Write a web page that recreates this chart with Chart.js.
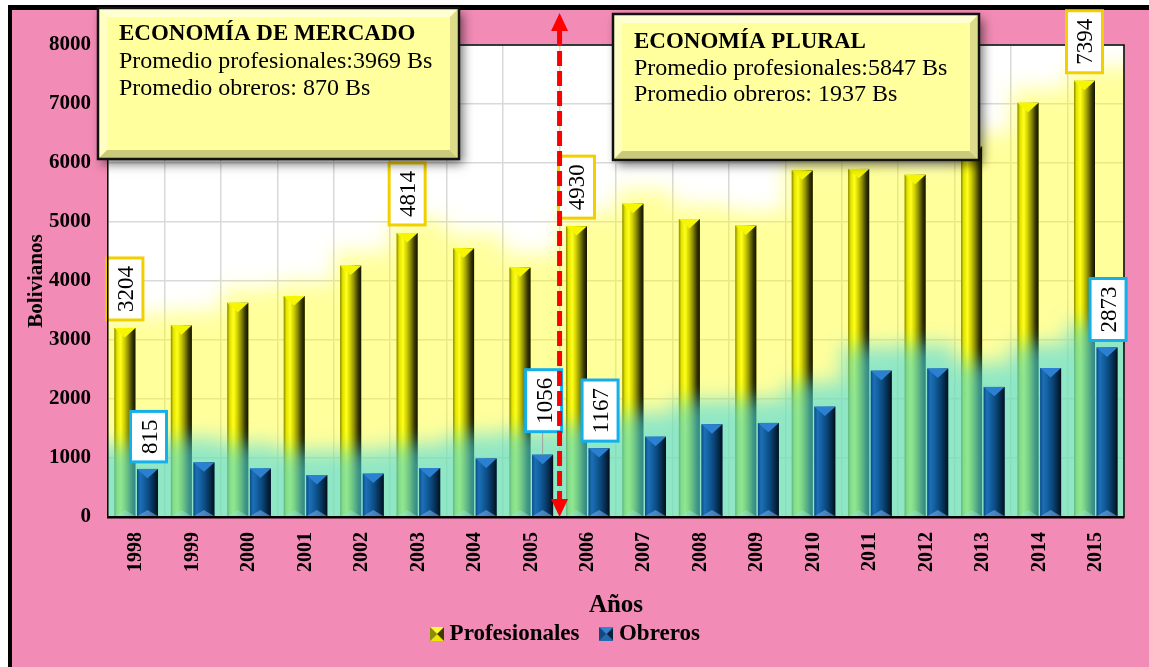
<!DOCTYPE html>
<html>
<head>
<meta charset="utf-8">
<script src="https://cdn.jsdelivr.net/npm/chart.js@4/dist/chart.umd.min.js"></script>
<style>
html,body{margin:0;padding:0;background:#fff;}
canvas{display:block;}
</style>
</head>
<body>
<canvas id="c" width="1149" height="667"></canvas>
<script>
// ---------------- DATA ----------------
const years = ['1998','1999','2000','2001','2002','2003','2004','2005','2006','2007','2008','2009','2010','2011','2012','2013','2014','2015'];
const profesionales = [3204, 3250, 3630, 3745, 4260, 4814, 4555, 4228, 4930, 5310, 5050, 4940, 5875, 5900, 5800, 6285, 7020, 7394];
const obreros = [815, 925, 820, 710, 735, 830, 990, 1056, 1167, 1360, 1570, 1595, 1870, 2480, 2515, 2205, 2525, 2873];
const yTickValues = [0, 1000, 2000, 3000, 4000, 5000, 6000, 7000, 8000];
const profLabelIdx = [0, 5, 8, 17];
const obrLabelIdx = [0, 7, 8, 17];
const seriesNames = ['Profesionales', 'Obreros'];
const boxMercado = ['ECONOMÍA DE MERCADO', 'Promedio profesionales:3969 Bs', 'Promedio obreros: 870 Bs'];
const boxPlural = ['ECONOMÍA PLURAL', 'Promedio profesionales:5847 Bs', 'Promedio obreros: 1937 Bs'];
const dividerAfterIndex = 7; // arrow between 2005 and 2006

// ---------------- STYLE ----------------
const FONT = "'Liberation Serif', 'Times New Roman', serif";
const PINK = '#f28bb5';

function makeIcon(top, bottom, left, right) {
  const c = document.createElement('canvas');
  c.width = 14; c.height = 14;
  const g = c.getContext('2d');
  const tri = (a, b, col) => { g.beginPath(); g.moveTo(a[0], a[1]); g.lineTo(b[0], b[1]); g.lineTo(7, 7); g.closePath(); g.fillStyle = col; g.fill(); };
  tri([0,0],[14,0], top);
  tri([0,14],[14,14], bottom);
  tri([0,0],[0,14], left);
  tri([14,0],[14,14], right);
  return c;
}
const iconProf = makeIcon('#ffff30', '#e8e800', '#8c8c00', '#3c3c00');
const iconObr = makeIcon('#2f86d6', '#1e6cb4', '#0b4a82', '#03223f');

const profStyle = {
  stops: [[0,'#8a8a00'],[0.12,'#e4e400'],[0.3,'#ffff1c'],[0.47,'#d2d200'],[0.66,'#8c8c00'],[0.85,'#3a3a00'],[1,'#121200']],
  cap: '#f6f600', foot: 'rgba(255,255,200,0.45)'
};
const obrStyle = {
  stops: [[0,'#0c4c86'],[0.15,'#1c70b8'],[0.35,'#135f9f'],[0.6,'#0a4578'],[0.85,'#052540'],[1,'#020e1b']],
  cap: '#2b80d2', foot: 'rgba(110,170,230,0.6)'
};

function drawGlow(chart, values, color, margin, blur) {
  const {ctx, chartArea: a, scales: {x, y}} = chart;
  const half = (x.getPixelForValue(1) - x.getPixelForValue(0)) / 2;
  ctx.save();
  ctx.beginPath(); ctx.rect(a.left, a.top, a.right - a.left, a.bottom - a.top); ctx.clip();
  ctx.filter = 'blur(' + blur + 'px)';
  ctx.fillStyle = color;
  ctx.beginPath();
  ctx.moveTo(a.left - 60, a.bottom + 60);
  let lastY = 0;
  values.forEach((v, i) => {
    const cx = x.getPixelForValue(i);
    const py = y.getPixelForValue(v) - margin;
    if (i === 0) ctx.lineTo(a.left - 60, py);
    ctx.lineTo(cx - half, py);
    ctx.lineTo(cx + half, py);
    lastY = py;
  });
  ctx.lineTo(a.right + 60, lastY);
  ctx.lineTo(a.right + 60, a.bottom + 60);
  ctx.closePath();
  ctx.fill();
  ctx.restore();
}

function shadeBars(chart, meta, st) {
  const ctx = chart.ctx;
  const a = chart.chartArea;
  ctx.save();
  ctx.beginPath(); ctx.rect(a.left, a.top - 40, a.right - a.left, a.bottom - a.top + 40); ctx.clip();
  meta.data.forEach(el => {
    const p = el.getProps(['x', 'y', 'base', 'width'], true);
    const x0 = p.x - p.width / 2, x1 = p.x + p.width / 2, w = p.width;
    const g = ctx.createLinearGradient(x0, 0, x1, 0);
    st.stops.forEach(s => g.addColorStop(s[0], s[1]));
    ctx.fillStyle = g;
    ctx.fillRect(x0, p.y, w, p.base - p.y);
    const capH = Math.min(w * 0.45, (p.base - p.y) / 2);
    ctx.beginPath(); ctx.moveTo(x0, p.y); ctx.lineTo(x1, p.y); ctx.lineTo(p.x, p.y + capH); ctx.closePath();
    ctx.fillStyle = st.cap; ctx.fill();
    const footH = Math.min(w * 0.3, (p.base - p.y) / 3);
    ctx.beginPath(); ctx.moveTo(x0, p.base); ctx.lineTo(x1, p.base); ctx.lineTo(p.x, p.base - footH); ctx.closePath();
    ctx.fillStyle = st.foot; ctx.fill();
  });
  ctx.restore();
}

function valueLabel(ctx, cx, bottomY, text, border) {
  ctx.save();
  ctx.font = '23px ' + FONT;
  const tw = ctx.measureText(text).width;
  const bw = 36, bh = tw + 16;
  const x0 = cx - bw / 2, y0 = bottomY - bh;
  ctx.fillStyle = '#ffffff';
  ctx.fillRect(x0, y0, bw, bh);
  ctx.strokeStyle = border; ctx.lineWidth = 3;
  ctx.strokeRect(x0, y0, bw, bh);
  ctx.translate(cx, y0 + bh / 2);
  ctx.rotate(-Math.PI / 2);
  ctx.fillStyle = '#000';
  ctx.textAlign = 'center';
  ctx.textBaseline = 'alphabetic';
  ctx.fillText(text, 0, 8);
  ctx.restore();
}

function bevelBox(ctx, x, y, w, h, lines, tx, baselines) {
  ctx.save();
  ctx.shadowColor = 'rgba(0,0,0,0.55)';
  ctx.shadowBlur = 10; ctx.shadowOffsetX = 4; ctx.shadowOffsetY = 5;
  ctx.fillStyle = '#ffff9e';
  ctx.fillRect(x, y, w, h);
  ctx.restore();
  const b = 9;
  const poly = (pts, col) => { ctx.beginPath(); ctx.moveTo(pts[0][0], pts[0][1]); pts.slice(1).forEach(p => ctx.lineTo(p[0], p[1])); ctx.closePath(); ctx.fillStyle = col; ctx.fill(); };
  poly([[x,y],[x+w,y],[x+w-b,y+b],[x+b,y+b]], '#ffffd4');
  poly([[x,y],[x+b,y+b],[x+b,y+h-b],[x,y+h]], '#ffffc4');
  poly([[x,y+h],[x+b,y+h-b],[x+w-b,y+h-b],[x+w,y+h]], '#caca7c');
  poly([[x+w,y],[x+w,y+h],[x+w-b,y+h-b],[x+w-b,y+b]], '#dcdc8a');
  ctx.strokeStyle = '#111'; ctx.lineWidth = 2.5;
  ctx.strokeRect(x, y, w, h);
  ctx.fillStyle = '#000';
  ctx.textAlign = 'left'; ctx.textBaseline = 'alphabetic';
  lines.forEach((t, i) => {
    ctx.font = (i === 0 ? 'bold 23px ' : '24px ') + FONT;
    ctx.fillText(t, tx, baselines[i]);
  });
}

const decorPlugin = {
  id: 'decor',
  beforeDraw(chart) {
    const {ctx, width, height, chartArea: a} = chart;
    ctx.save();
    ctx.fillStyle = '#ffffff'; ctx.fillRect(0, 0, width, height);
    ctx.fillStyle = '#000000'; ctx.fillRect(8, 5, width - 8, height - 5);
    ctx.fillStyle = PINK; ctx.fillRect(12, 10, width - 12, height - 10);
    ctx.fillStyle = '#ffffff'; ctx.fillRect(a.left, a.top, a.right - a.left, a.bottom - a.top);
    ctx.restore();
  },
  beforeDatasetsDraw(chart) {
    drawGlow(chart, chart.data.datasets[0].data, 'rgba(255,255,20,0.42)', 14, 10);
  },
  afterDatasetsDraw(chart) {
    const {ctx, chartArea: a} = chart;
    const m0 = chart.getDatasetMeta(0), m1 = chart.getDatasetMeta(1);
    shadeBars(chart, m0, profStyle);
    drawGlow(chart, chart.data.datasets[1].data, 'rgba(70,215,225,0.6)', 24, 10);
    shadeBars(chart, m1, obrStyle);
    ctx.save();
    ctx.strokeStyle = '#000'; ctx.lineWidth = 1.5;
    ctx.beginPath();
    ctx.moveTo(a.left, a.top); ctx.lineTo(a.right, a.top); ctx.lineTo(a.right, a.bottom);
    ctx.stroke();
    ctx.restore();
    profLabelIdx.forEach(i => {
      const el = m0.data[i];
      valueLabel(ctx, el.x, el.y - 8, String(chart.data.datasets[0].data[i]), '#f2d000');
    });
    obrLabelIdx.forEach(i => {
      const el = m1.data[i];
      const lift = (i === 7) ? 23 : 7;
      if (lift > 10) {
        ctx.save(); ctx.strokeStyle = '#a0a0a0'; ctx.lineWidth = 1;
        ctx.beginPath(); ctx.moveTo(el.x, el.y - lift); ctx.lineTo(el.x, el.y); ctx.stroke(); ctx.restore();
      }
      valueLabel(ctx, el.x + 1, el.y - lift, String(chart.data.datasets[1].data[i]), '#14b0ec');
    });
  },
  afterDraw(chart) {
    const {ctx, chartArea: a, scales: {x}} = chart;
    bevelBox(ctx, 98, 8, 361, 151, boxMercado, 119, [40, 68, 95]);
    bevelBox(ctx, 613, 14, 366, 146, boxPlural, 634, [48, 75, 101]);
    const ax = (x.getPixelForValue(dividerAfterIndex) + x.getPixelForValue(dividerAfterIndex + 1)) / 2;
    const topY = 13, botY = a.bottom, head = 18, hw = 8.5;
    ctx.save();
    ctx.strokeStyle = '#ff0000'; ctx.lineWidth = 5; ctx.setLineDash([15, 5]);
    ctx.beginPath(); ctx.moveTo(ax, topY + head); ctx.lineTo(ax, botY - head); ctx.stroke();
    ctx.setLineDash([]);
    ctx.fillStyle = '#ff0000';
    ctx.beginPath(); ctx.moveTo(ax, topY); ctx.lineTo(ax - hw, topY + head); ctx.lineTo(ax + hw, topY + head); ctx.closePath(); ctx.fill();
    ctx.beginPath(); ctx.moveTo(ax, botY); ctx.lineTo(ax - hw, botY - head); ctx.lineTo(ax + hw, botY - head); ctx.closePath(); ctx.fill();
    ctx.restore();
  }
};

new Chart(document.getElementById('c'), {
  type: 'bar',
  data: {
    labels: years,
    datasets: [
      { label: seriesNames[0], data: profesionales, backgroundColor: '#c8c800', borderWidth: 0,
        categoryPercentage: 0.8, barPercentage: 0.93, pointStyle: iconProf },
      { label: seriesNames[1], data: obreros, backgroundColor: '#0e568f', borderWidth: 0,
        categoryPercentage: 0.8, barPercentage: 0.93, pointStyle: iconObr }
    ]
  },
  options: {
    responsive: false,
    animation: false,
    devicePixelRatio: 1,
    layout: { padding: { left: 12, top: 45, right: 25, bottom: 11.5 } },
    plugins: {
      tooltip: { enabled: false },
      legend: {
        position: 'bottom',
        labels: {
          usePointStyle: true,
          pointStyleWidth: 2,
          padding: 26,
          color: '#000',
          font: { family: FONT, size: 23, weight: 'bold' }
        }
      }
    },
    scales: {
      x: {
        grid: { color: '#d9d9d9', lineWidth: 1.5, drawTicks: false, offset: true },
        border: { display: true, color: '#000', width: 2.5, z: 1 },
        ticks: { color: '#000', font: { family: FONT, size: 20, weight: 'bold' }, minRotation: 90, maxRotation: 90, padding: 15, autoSkip: false },
        title: { display: true, text: 'Años', color: '#000', font: { family: FONT, size: 25, weight: 'bold' }, padding: { top: 0, bottom: -24.5 } },
        afterFit: s => { s.height = 79.5; }
      },
      y: {
        min: 0, max: 8000,
        grid: { color: '#d9d9d9', lineWidth: 1.5, drawTicks: false },
        border: { display: true, color: '#000', width: 1.5, z: 1 },
        ticks: { color: '#000', font: { family: FONT, size: 21, weight: 'bold' }, padding: 17, stepSize: 1000, callback: v => String(v) },
        afterBuildTicks: s => { s.ticks = yTickValues.map(v => ({ value: v })); },
        title: { display: true, text: 'Bolivianos', color: '#000', font: { family: FONT, size: 21, weight: 'bold' }, padding: { top: 12, bottom: 0 } },
        afterFit: s => { s.width = 96; }
      }
    }
  },
  plugins: [decorPlugin]
});
</script>
</body>
</html>
